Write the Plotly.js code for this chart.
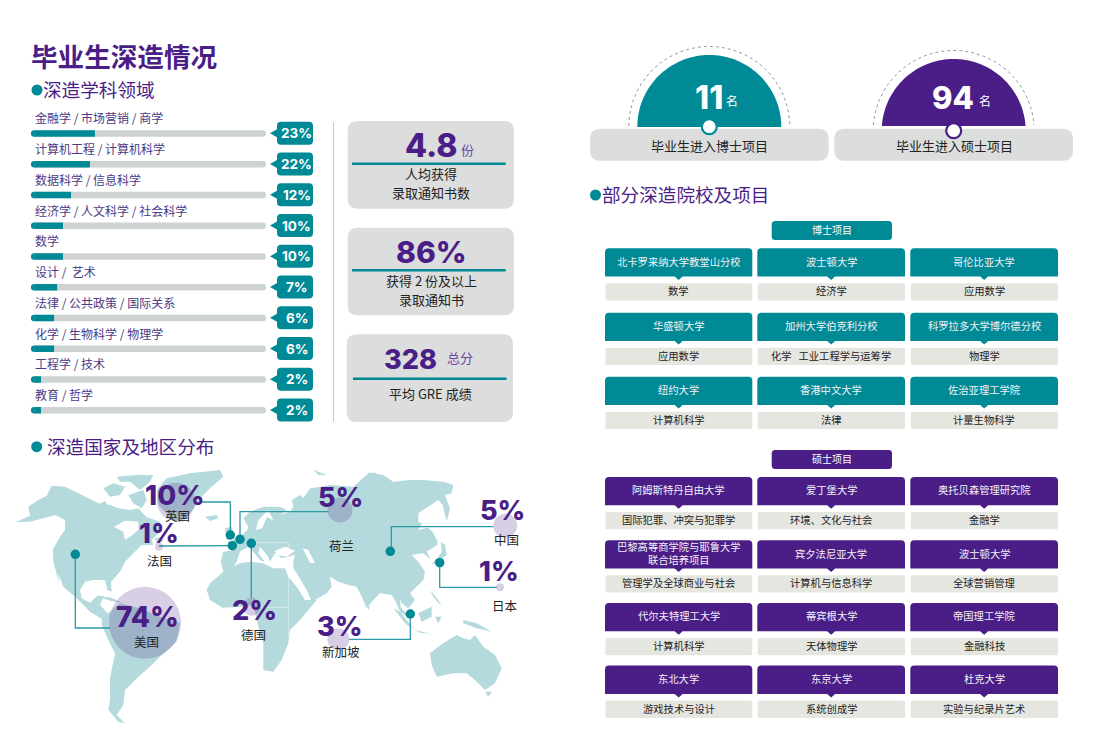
<!DOCTYPE html>
<html><head><meta charset="utf-8">
<script src="https://cdn.plot.ly/plotly-3.0.1.min.js"></script>
<style>html,body{margin:0;padding:0;background:#fff}#c{width:1101px;height:754px}</style>
</head><body><div id="c"></div>
<script>
// ---------- chart data ----------
const subjects = ['金融学 / 市场营销 / 商学','计算机工程 / 计算机科学','数据科学 / 信息科学','经济学 / 人文科学 / 社会科学','数学','设计 /  艺术','法律 / 公共政策 / 国际关系','化学 / 生物科学 / 物理学','工程学 / 技术','教育 / 哲学'];
const subjectPct = [23,22,12,10,10,7,6,6,2,2];
const barReadings = [23,21.2,14.4,11.5,11.5,9.4,8.3,8.3,3.6,3.6];
const countries = ['美国','英国','法国','德国','荷兰','中国','日本','新加坡'];
const countryPct = [74,10,1,2,5,5,1,3];
const phdCount = 11, mscCount = 94;
const phdSchools = ['北卡罗来纳大学教堂山分校','波士顿大学','哥伦比亚大学','华盛顿大学','加州大学伯克利分校','科罗拉多大学博尔德分校','纽约大学','香港中文大学','佐治亚理工学院'];
const phdPrograms = ['数学','经济学','应用数学','应用数学','化学   工业工程学与运筹学','物理学','计算机科学','法律','计量生物科学'];
const mscSchools = ['阿姆斯特丹自由大学','爱丁堡大学','奥托贝森管理研究院','巴黎高等商学院与耶鲁大学<br>联合培养项目','宾夕法尼亚大学','波士顿大学','代尔夫特理工大学','蒂宾根大学','帝国理工学院','东北大学','东京大学','杜克大学'];
const mscPrograms = ['国际犯罪、冲突与犯罪学','环境、文化与社会','金融学','管理学及全球商业与社会','计算机与信息科学','全球营销管理','计算机科学','天体物理学','金融科技','游戏技术与设计','系统创成学','实验与纪录片艺术'];

// ---------- styles ----------
const TEAL='#008a96', PURPLE='#4a1e86', GREY='#dcdddd', MAPC='#b5dadd', CELL='#e6e6e1';
const CJK='"Noto Sans CJK SC","Noto Sans",sans-serif', NUM='Inter,"Noto Sans CJK SC",sans-serif';
const W=1101,H=754;
const shapes=[], ann=[], traces=[];

function txt(x,y,t,size,color,o){o=o||{};const f=o.f||CJK;ann.push({xref:'x',yref:'y',x:x,y:f===CJK?y-1.2:y,text:t,showarrow:false,xanchor:o.a||'center',yanchor:'middle',align:o.a||'center',
  font:{family:f,size:size,color:color,weight:o.w||400},borderpad:0,borderwidth:0});}
function path(d,fill,line,lw,dash){shapes.push({type:'path',xref:'x',yref:'y',layer:'below',path:d,fillcolor:fill||'rgba(0,0,0,0)',line:{color:line||'rgba(0,0,0,0)',width:lw||0,dash:dash||'solid'}});}
function rr(x0,y0,x1,y1,r){return `M${x0+r},${y0} L${x1-r},${y0} Q${x1},${y0} ${x1},${y0+r} L${x1},${y1-r} Q${x1},${y1} ${x1-r},${y1} L${x0+r},${y1} Q${x0},${y1} ${x0},${y1-r} L${x0},${y0+r} Q${x0},${y0} ${x0+r},${y0} Z`;}
function seg(pts,color,w){path('M'+pts.map(p=>p.join(',')).join(' L'),null,color,w);}
function dot(x,y,r,color){shapes.push({type:'circle',xref:'x',yref:'y',layer:'below',x0:x-r,x1:x+r,y0:y-r,y1:y+r,fillcolor:color,line:{width:0}});}

// ---------- world map outline (traced in 3x zoom pixels, converted) ----------
const z4=p=>p.map(q=>[10+q[0]/3,430+q[1]/3]);
const off=(dx,dy,p)=>z4(p.map(q=>[q[0]+dx,q[1]+dy]));
const land=[
 // North America
 z4([[17,277],[60,257],[55,230],[85,210],[110,197],[125,167],[165,170],[205,190],[235,205],[265,220],[300,225],[325,235],[360,240],[385,235],[410,262],[450,275],[455,300],[425,330],[430,345],[395,345],[370,370],[345,395],[330,425],[303,455],[305,485],[292,480],[285,450],[250,450],[225,455],[210,480],[215,505],[240,518],[262,497],[282,498],[270,525],[298,555],[300,575],[280,570],[240,545],[200,505],[160,470],[145,430],[148,460],[130,395],[128,360],[150,320],[165,300],[165,270],[135,255],[100,265],[60,275]]),
 // South America
 z4([[275,565],[275,585],[295,630],[315,670],[300,745],[300,810],[295,840],[325,875],[345,880],[320,855],[340,825],[345,780],[385,740],[420,710],[450,680],[500,635],[510,580],[450,560],[390,535],[330,520],[300,545]]),
 // Greenland
 off(0,105,[[440,75],[470,40],[540,25],[630,15],[640,35],[600,70],[570,100],[555,125],[520,170],[480,165],[465,140],[445,120]]),
 // Arctic Canada
 off(0,105,[[280,70],[310,55],[345,65],[330,90],[300,95]]),
 off(0,105,[[320,35],[380,30],[430,30],[420,50],[390,75],[360,50],[330,50]]),
 off(0,105,[[355,90],[400,75],[410,105],[395,130],[370,115]]),
 off(0,105,[[260,120],[285,108],[295,125],[270,130]]),
 off(0,105,[[585,155],[620,150],[625,160],[600,168]]),
 // UK
 z4([[645,295],[665,290],[675,325],[650,330]]),
 // Eurasia
 z4([[632,395],[640,365],[665,362],[655,335],[690,322],[712,300],[715,290],[700,265],[720,245],[760,230],[810,230],[830,240],[810,255],[840,245],[850,230],[845,210],[870,195],[880,205],[900,175],[935,170],[960,165],[1030,170],[1075,130],[1120,135],[1150,155],[1200,150],[1240,150],[1300,155],[1330,165],[1325,190],[1305,195],[1320,235],[1310,275],[1298,225],[1285,210],[1225,250],[1225,275],[1250,290],[1262,300],[1282,345],[1250,365],[1262,388],[1240,370],[1205,375],[1225,395],[1245,425],[1240,450],[1200,490],[1215,510],[1195,535],[1175,520],[1170,505],[1172,530],[1195,560],[1198,565],[1170,545],[1155,510],[1145,495],[1110,490],[1090,510],[1070,535],[1055,500],[1040,470],[1015,465],[985,455],[960,440],[965,470],[950,490],[905,515],[890,480],[860,430],[850,415],[850,395],[855,375],[815,385],[795,370],[780,395],[775,380],[750,350],[745,370],[765,395],[752,392],[725,360],[715,350],[690,365],[680,395],[665,420],[640,425]]),
 // Africa
 z4([[640,425],[600,460],[590,480],[600,510],[640,535],[690,530],[730,525],[745,590],[760,640],[760,720],[790,725],[815,690],[835,640],[840,600],[870,570],[920,510],[885,510],[860,470],[835,440],[825,415],[790,415],[760,400],[720,395],[690,400],[660,415]]),
 // Asia-Pacific islands
 z4([[1292,335],[1305,345],[1310,375],[1285,395],[1262,405],[1285,380],[1295,365]]),
 z4([[1258,300],[1268,305],[1285,340],[1278,340]]),
 z4([[1150,535],[1170,545],[1210,595],[1190,585]]),
 z4([[1225,550],[1265,530],[1265,560],[1235,575]]),
 z4([[1215,600],[1265,612],[1230,608]]),
 z4([[1275,560],[1295,560],[1285,580]]),
 z4([[1360,570],[1400,580],[1445,605],[1400,595],[1360,580]]),
 z4([[1260,480],[1285,510],[1295,530],[1270,500]]),
 z4([[1072,527],[1080,530],[1075,540]]),
 z4([[265,500],[300,502],[340,520],[300,512]]),
 z4([[910,118],[925,125],[950,135],[925,135]]),
 z4([[1075,128],[1095,128],[1110,135],[1085,138]]),
 z4([[435,325],[455,320],[458,335],[440,338]]),
 off(570,480,[[690,190],[715,170],[745,150],[770,135],[790,145],[810,150],[825,135],[850,170],[885,195],[905,235],[885,280],[855,300],[825,270],[800,250],[760,250],[710,260],[695,225]]),
 z4([[1425,785],[1445,785],[1435,800]])
];
const seas=[
 z4([[312,290],[345,272],[385,275],[385,300],[360,320],[345,330],[340,305]]), // Hudson
 z4([[795,362],[825,350],[855,362],[830,380],[800,375]]), // Black Sea
 z4([[878,355],[895,360],[915,400],[900,398]]),  // Caspian
 z4([[738,300],[745,270],[775,240],[790,270],[770,262],[757,295]]), // Baltic
 z4([[1225,300],[1255,250],[1280,258],[1262,290]]) // Okhotsk inlet
];
land.forEach(p=>path('M'+p.map(q=>q.map(v=>v.toFixed(1)).join(',')).join(' L')+' Z',MAPC));
seas.forEach(p=>path('M'+p.map(q=>q.map(v=>v.toFixed(1)).join(',')).join(' L')+' Z','#ffffff'));
// faint graticule box over Africa
seg(z4([[724,338],[835,338],[835,620]]),'rgba(255,255,255,.45)',1);
seg(z4([[640,532],[835,532]]),'rgba(255,255,255,.45)',1);

// ---------- section headers ----------
dot(37,90,5.5,TEAL); txt(43,90,'深造学科领域',18.6,PURPLE,{a:'left'});
dot(36.7,446.7,5.5,TEAL); txt(47,447,'深造国家及地区分布',18.6,PURPLE,{a:'left'});
dot(595.5,195,5.5,TEAL); txt(602,195,'部分深造院校及项目',18.6,PURPLE,{a:'left'});

// ---------- bar labels, bar caps and callouts ----------
subjects.forEach((s,i)=>{
  const yc=133.3+30.75*i;
  txt(35,yc-14.2,s,12,'#4b3a85',{a:'left'});
  dot(34.2,yc+0.2,3.25,TEAL);
  const a=yc-11.5,b=yc+11.5,x0=277,x1=313,r=4;
  path(`M${x0+r},${a} L${x1-r},${a} Q${x1},${a} ${x1},${a+r} L${x1},${b-r} Q${x1},${b} ${x1-r},${b} L${x0+r},${b} Q${x0},${b} ${x0},${b-r} L${x0},${yc+4} L270,${yc} L${x0},${yc-4} L${x0},${a+r} Q${x0},${a} ${x0+r},${a} Z`,TEAL);
  txt(296.5,yc,subjectPct[i]+'%',13.5,'#fff',{f:NUM,w:700});
});
seg([[333.5,122],[333.5,422]],'#cfd1d1',1.2);

// ---------- stat cards ----------
path(rr(347.7,121,514,208.7,10),GREY);
path(rr(347.7,227.7,514,315.3,10),GREY);
path(rr(346.7,334.3,513,422,10),GREY);
seg([[352,163.7],[505.7,163.7]],TEAL,2.4);
seg([[352,270.3],[505.7,270.3]],TEAL,2.4);
seg([[353,378.7],[506.5,378.7]],TEAL,2.4);
txt(431,145,'4.8',32,PURPLE,{f:NUM,w:800}); txt(467,151,'份',13,'#6a46a8');
txt(431,175,'人均获得',13,'#222'); txt(431,194,'录取通知书数',13,'#222');
txt(431,252,'86%',30,PURPLE,{f:NUM,w:800});
txt(431,282,'获得 2 份及以上',13,'#222'); txt(431,300.5,'录取通知书',13,'#222');
txt(410.5,359,'328',27,PURPLE,{f:NUM,w:800}); txt(460,359,'总分',13,'#6a46a8');
txt(430,395,'平均 GRE 成绩',13,'#222');

// ---------- PhD / Master gauges ----------
function arc(cx,cy,r,base){const p=[];const s=Math.asin((cy-base)/r);for(let i=0;i<=72;i++){const t=Math.PI+s+(Math.PI-2*s)*i/72;p.push([cx+r*Math.cos(t),cy+r*Math.sin(t)]);}return p;}
function semi(cx,cy,base,color){
  const p=arc(cx,cy,72,base);
  path('M'+p.map(q=>q[0].toFixed(2)+','+q[1].toFixed(2)).join(' L')+' Z',color);
  const q=arc(cx,cy,80.5,base-1);
  path('M'+q.map(v=>v[0].toFixed(2)+','+v[1].toFixed(2)).join(' L'),null,'#8a8a8a',0.9,'dot');
}
semi(709.3,127,127,TEAL); semi(953.7,131,126,PURPLE);
path(rr(590,128.7,828.7,160.7,10),GREY);
path(rr(834.3,128.7,1073,160.7,10),GREY);
txt(708.7,97,String(phdCount),32,'#fff',{f:NUM,w:800}); txt(732,102,'名',12,'#fff');
txt(953,97,String(mscCount),31,'#fff',{f:NUM,w:800}); txt(985,102,'名',12,'#fff');
txt(709,147,'毕业生进入博士项目',13,'#222'); txt(954,147,'毕业生进入硕士项目',13,'#222');
traces.push({type:'scatter',mode:'markers',x:[709.3,953.7],y:[126.7,130.7],xaxis:'x',yaxis:'y',hoverinfo:'skip',
  marker:{size:15,color:'#fff',line:{width:2.2,color:[TEAL,PURPLE]}}});

// ---------- programme tables ----------
const cols=[[605,752.3],[757.3,905],[910.3,1058]];
function table(schools,programs,color,tag,tagY,rowYs){
  path(rr(771.7,tagY,892,tagY+19,3.5),color);
  txt(831.8,tagY+9.5,tag,10,'#fff');
  schools.forEach((s,i)=>{
    const col=cols[i%3],y=rowYs[Math.floor(i/3)],[x0,x1]=col,m=(x0+x1)/2,r=4,b=y+28.3;
    path(`M${x0+r},${y} L${x1-r},${y} Q${x1},${y} ${x1},${y+r} L${x1},${b} L${m+4},${b} L${m},${b+3.5} L${m-4},${b} L${x0},${b} L${x0},${y+r} Q${x0},${y} ${x0+r},${y} Z`,color);
    path(rr(x0+0.5,b+6.7,x1,b+24,1.5),CELL);
    txt(m,y+14,s,10.3,'#f4f1f8');
    txt(m,b+15.3,programs[i],10.3,'#222');
  });
}
table(phdSchools,phdPrograms,TEAL,'博士项目',221,[248.3,312.7,376.8]);
table(mscSchools,mscPrograms,PURPLE,'硕士项目',450,[477,540.2,603,665.6]);

// ---------- map leader lines, bubbles, dots ----------
const LEAD='#2b9ba6';
const leaders=[
 [[75.3,554.3],[75.3,628],[110,628]],
 [[230.3,535],[230.3,502],[201.7,502]],
 [[232.3,545.7],[159,546]],
 [[240,539.3],[240,511.7],[328.3,511.7]],
 [[251.3,543.3],[251.3,598]],
 [[391.3,551.3],[391.3,526.7],[493.3,526.7]],
 [[439.7,562.7],[439.7,587.3],[496.7,587.3]],
 [[410.3,614],[410.3,639.3],[349,639.3]]
];
leaders.forEach(l=>traces.push({type:'scatter',mode:'lines',x:l.map(p=>p[0]),y:l.map(p=>p[1]),xaxis:'x',yaxis:'y',hoverinfo:'skip',line:{color:LEAD,width:1.3}}));
const bubbleX=[145,176,159,251.7,340,505.3,500,338.3], bubbleY=[622.7,501.7,546.7,606.7,510,525.7,587.3,639.3], bubbleD=[72,38,8,18,25,24,8,22];
traces.push({type:'scatter',mode:'markers',x:bubbleX,y:bubbleY,xaxis:'x',yaxis:'y',text:countries,customdata:countryPct,hoverinfo:'skip',
  marker:{size:bubbleD,sizemode:'diameter',color:'rgba(74,30,134,0.30)',line:{width:0}}});
traces.push({type:'scatter',mode:'markers',x:[75.3,230.3,232.3,240,251.3,390.3,439.7,410.3],y:[554.3,535,545.7,539.3,543.3,551.3,562.7,614],xaxis:'x',yaxis:'y',hoverinfo:'skip',
  marker:{size:9.5,color:TEAL,line:{width:0}}});
const pctPos=[[147,616.7],[174.5,495],[159,533.5],[254.5,610.5],[340.3,497.5],[502.5,510.5],[499,571],[340.3,626.5]];
const namePos=[[146.7,642.5],[177.7,517],[159,561.5],[253.3,635.5],[341,546.8],[506.7,540.5],[505,606.5],[341.3,652.8]];
const pctSize=[28,27.5,27,27,27,27,27,27];
countries.forEach((c,i)=>{
  txt(pctPos[i][0],pctPos[i][1],countryPct[i]+'%',pctSize[i],PURPLE,{f:NUM,w:800});
  txt(namePos[i][0],namePos[i][1],c,12.5,'#222');
});

// ---------- bars through their own axes ----------
// axis starts 3px in so the square base is clipped; the round left cap is drawn below
const pxPerPct=2.78, trackMax=235/pxPerPct, trackMin=3.2/pxPerPct;
traces.unshift(
 {type:'bar',orientation:'h',y:subjects,x:subjects.map(()=>trackMax),xaxis:'x2',yaxis:'y2',width:0.21,marker:{color:'#d0d3d4'},hoverinfo:'skip'},
 {type:'bar',orientation:'h',y:subjects,x:barReadings,xaxis:'x2',yaxis:'y2',width:0.21,marker:{color:TEAL},hoverinfo:'skip'}
);

const layout={
 width:W,height:H,margin:{l:0,r:0,t:0,b:0},paper_bgcolor:'#fff',plot_bgcolor:'rgba(0,0,0,0)',showlegend:false,hovermode:false,
 barmode:'overlay',barcornerradius:3,
 title:{text:'毕业生深造情况',x:31/W,xanchor:'left',y:1-58/H,yanchor:'middle',font:{family:CJK,size:26.6,color:PURPLE,weight:700}},
 xaxis:{domain:[0,1],range:[0,W],visible:false,fixedrange:true},
 yaxis:{domain:[0,1],range:[H,0],visible:false,fixedrange:true},
 xaxis2:{domain:[34.2/W,266/W],range:[trackMin,trackMax],visible:false,anchor:'y2'},
 yaxis2:{domain:[1-425.6/H,1-118.1/H],type:'category',categoryorder:'array',categoryarray:subjects,range:[9.5,-0.5],visible:false,anchor:'x2'},
 shapes:shapes,annotations:ann
};
Plotly.newPlot('c',traces,layout,{displayModeBar:false,staticPlot:true});
</script></body></html>
